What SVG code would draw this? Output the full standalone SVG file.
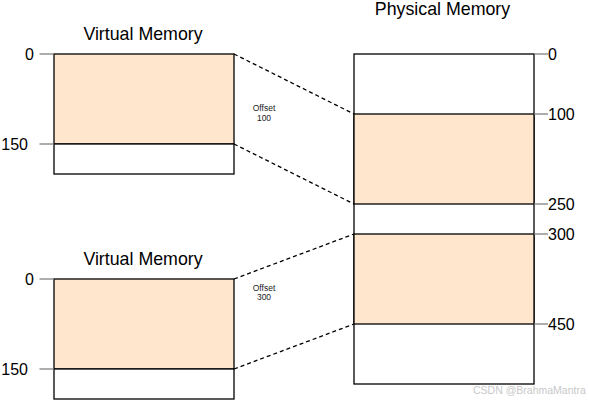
<svg xmlns="http://www.w3.org/2000/svg" width="589" height="401" viewBox="0 0 589 401">
<style>
.t{font-family:"Liberation Sans",Arial,sans-serif;fill:#000}
.title{font-size:17.8px;text-anchor:middle}
.num{font-size:16px}
.off{font-size:8.5px;text-anchor:middle;fill:#222}
.box{stroke:#000;stroke-width:1.3}
.fill{fill:#ffe6cc}
.white{fill:#fff}
.tick{stroke:#808080;stroke-width:1.3}
.dash{stroke:#000;stroke-width:1.3;stroke-dasharray:4 3;fill:none}
.wm{font-family:"Liberation Sans",Arial,sans-serif;font-size:10.5px;fill:#c8c8c8}
</style>
<rect width="589" height="401" fill="#fff"/>
<g id="connectors">
<line class="dash" x1="234" y1="54" x2="354" y2="114"/>
<line class="dash" x1="234" y1="144" x2="354" y2="204"/>
<line class="dash" x1="234" y1="279" x2="354" y2="234"/>
<line class="dash" x1="234" y1="369" x2="354" y2="324"/>
</g>
<g id="virtual1">
<text class="t title" x="143" y="40">Virtual Memory</text>
<rect class="box fill" x="54" y="54" width="180" height="90"/>
<rect class="box white" x="54" y="144" width="180" height="30"/>
<line class="tick" x1="39.5" y1="54" x2="54" y2="54"/>
<line class="tick" x1="39.5" y1="144" x2="54" y2="144"/>
<text class="t num" x="34" y="59.5" text-anchor="end">0</text>
<text class="t num" x="28" y="149.5" text-anchor="end">150</text>
</g>
<g id="virtual2">
<text class="t title" x="143" y="265">Virtual Memory</text>
<rect class="box fill" x="54" y="279" width="180" height="90"/>
<rect class="box white" x="54" y="369" width="180" height="30"/>
<line class="tick" x1="39.5" y1="279" x2="54" y2="279"/>
<line class="tick" x1="39.5" y1="369" x2="54" y2="369"/>
<text class="t num" x="34" y="284.5" text-anchor="end">0</text>
<text class="t num" x="28" y="374.5" text-anchor="end">150</text>
</g>
<g id="physical">
<text class="t title" x="442.5" y="15">Physical Memory</text>
<rect class="box white" x="354" y="54" width="180" height="330"/>
<rect class="box fill" x="354" y="114" width="180" height="90"/>
<rect class="box fill" x="354" y="234" width="180" height="90"/>
<line class="tick" x1="534" y1="54" x2="548" y2="54"/>
<line class="tick" x1="534" y1="114" x2="548" y2="114"/>
<line class="tick" x1="534" y1="204" x2="548" y2="204"/>
<line class="tick" x1="534" y1="234" x2="548" y2="234"/>
<line class="tick" x1="534" y1="324" x2="548" y2="324"/>
<text class="t num" x="548" y="59.5">0</text>
<text class="t num" x="548" y="119.5">100</text>
<text class="t num" x="548" y="209.5">250</text>
<text class="t num" x="548" y="239.5">300</text>
<text class="t num" x="548" y="329.5">450</text>
</g>
<g id="offset100">
<text class="t off" x="264" y="110.5">Offset</text>
<text class="t off" x="264" y="120.5">100</text>
</g>
<g id="offset300">
<text class="t off" x="264" y="290.5">Offset</text>
<text class="t off" x="264" y="299.5">300</text>
</g>
<text class="wm" x="473" y="394">CSDN @BrahmaMantra</text>
</svg>
